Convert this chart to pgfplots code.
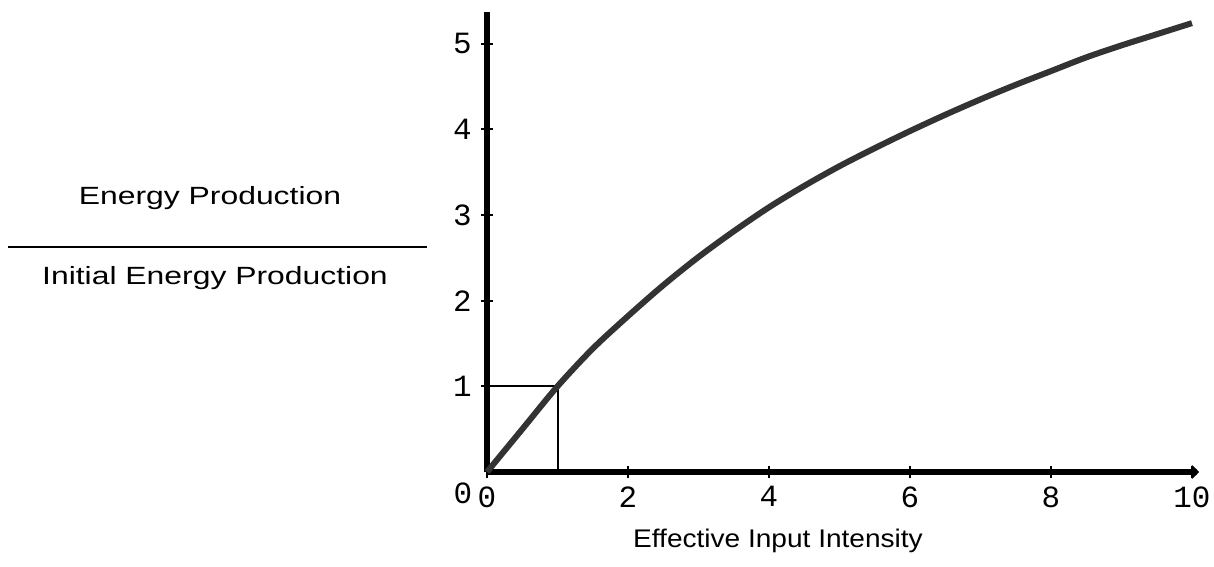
\documentclass[border=0pt]{standalone}
\usepackage{pgfplots}
\pgfplotsset{compat=1.18}
\usepackage{fontspec}
\setmainfont{Liberation Sans}
\newfontfamily\courier{Liberation Mono}
\usepackage{graphicx}
\usetikzlibrary{arrows.meta}

\begin{document}
\begin{tikzpicture}
\useasboundingbox (0,0) rectangle (607bp,283.5bp);

% y label as a fraction
\node[anchor=base,inner sep=0pt,font=\fontsize{12.5}{14}\selectfont] at (105bp,181bp)
  {\scalebox{1.28}[1]{Energy Production}};
\draw[line width=1bp] (4bp,160bp) -- (213.5bp,160bp);
\node[anchor=base,inner sep=0pt,font=\fontsize{12.5}{14}\selectfont] at (107.5bp,141bp)
  {\scalebox{1.28}[1]{Initial Energy Production}};

% x label
\node[anchor=base,inner sep=0pt,font=\fontsize{12.8}{14}\selectfont] at (389bp,10bp)
  {\scalebox{1.1}[1]{Effective Input Intensity}};

\begin{axis}[
    at={(243.5bp,47.5bp)}, anchor=south west,
    scale only axis, width=356bp, height=230bp,
    xmin=0, xmax=10.1, ymin=0, ymax=5.37,
    axis x line=bottom, axis y line=left,
    x axis line style={line width=2.5bp, -{Straight Barb[length=3bp,width=6bp,line width=1bp]}},
    y axis line style={line width=2.8bp, -},
    xtick={0,2,4,6,8,10}, ytick={1,2,3,4,5},
    tick style={black, line width=1bp},
    major tick length=6bp, tick align=center,
    ticklabel style={font=\courier\fontsize{15.5}{16}\selectfont, inner sep=0pt},
    /pgf/number format/assume math mode=true,
    xticklabel style={yshift=-4bp},
    yticklabel style={xshift=-4.5bp},
    clip=false,
]
    % the unit box
    \addplot[line width=1bp, black] coordinates {(0,1) (1,1) (1,0)};

    % energy production curve
    \addplot[line width=3bp, black!80, smooth] coordinates {
        (0,0) (0.5,0.5) (1,1.0) (1.5,1.44) (2,1.82) (2.5,2.18) (3,2.51)
        (3.5,2.81) (4,3.09) (4.5,3.34) (5,3.57) (5.5,3.78) (6,3.98)
        (6.5,4.17) (7,4.35) (7.5,4.52) (8,4.68) (8.5,4.84) (9,4.98)
        (9.5,5.11) (10,5.24)
    };

    \node[font=\courier\fontsize{15.5}{16}\selectfont] at (axis cs:0,0)
        [shift={(-12bp,-10.5bp)}] {0};
\end{axis}
\end{tikzpicture}
\end{document}
